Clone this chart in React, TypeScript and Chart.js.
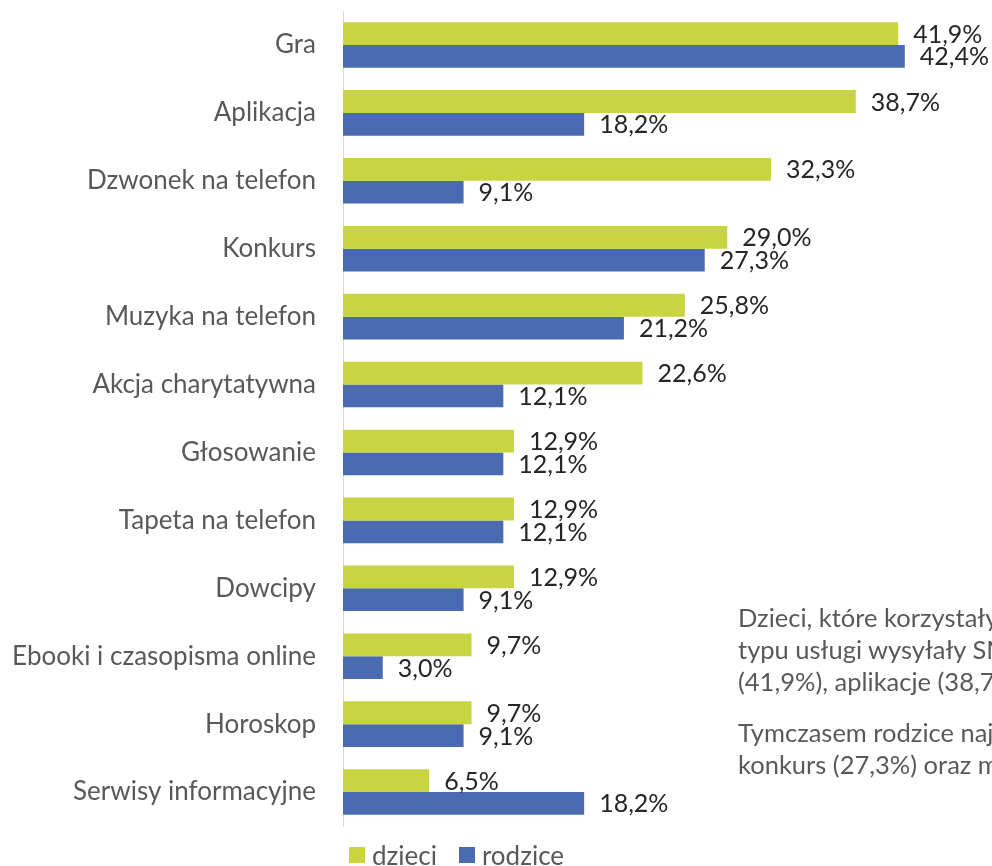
import React, { useEffect, useRef } from "react";
import { Chart, registerables } from "chart.js";

Chart.register(...registerables);

const categories = [
  "Gra",
  "Aplikacja",
  "Dzwonek na telefon",
  "Konkurs",
  "Muzyka na telefon",
  "Akcja charytatywna",
  "Głosowanie",
  "Tapeta na telefon",
  "Dowcipy",
  "Ebooki i czasopisma online",
  "Horoskop",
  "Serwisy informacyjne",
];
const dzieci = [41.9, 38.7, 32.3, 29.0, 25.8, 22.6, 12.9, 12.9, 12.9, 9.7, 9.7, 6.5];
const rodzice = [42.4, 18.2, 9.1, 27.3, 21.2, 12.1, 12.1, 12.1, 9.1, 3.0, 9.1, 18.2];
const seriesNames = ["dzieci", "rodzice"];
const seriesColors = ["#c9d540", "#4a6bb1"];

const noteParagraphs = [
  [
    "Dzieci, które korzystały z tego",
    "typu usługi wysyłały SMS-y na grę",
    "(41,9%), aplikacje (38,7%) i dzwonki",
  ],
  [
    "Tymczasem rodzice najczęściej na grę (42,4%),",
    "konkurs (27,3%) oraz muzykę (21,2%).",
  ],
];

const FONT = "Lato, 'Open Sans', 'DejaVu Sans', sans-serif";

const labelPlugin = {
  id: "barValueLabels",
  afterDatasetsDraw(chart: any) {
    const ctx = chart.ctx;
    ctx.save();
    ctx.font = `25px ${FONT}`;
    ctx.fillStyle = "#262626";
    ctx.textAlign = "left";
    ctx.textBaseline = "middle";
    chart.data.datasets.forEach((ds: any, di: number) => {
      const meta = chart.getDatasetMeta(di);
      meta.data.forEach((el: any, i: number) => {
        const v = ds.data[i] as number;
        const txt = v.toFixed(1).replace(".", ",") + "%";
        ctx.fillText(txt, el.x + 15, el.y + 1);
      });
    });
    ctx.restore();
  },
};

export default function App() {
  const canvasRef = useRef<HTMLCanvasElement | null>(null);

  useEffect(() => {
    if (!canvasRef.current) return;
    const chart = new Chart(canvasRef.current, {
      type: "bar",
      data: {
        labels: categories,
        datasets: [
          {
            label: seriesNames[0],
            data: dzieci,
            backgroundColor: seriesColors[0],
            categoryPercentage: 0.67,
            barPercentage: 1,
          },
          {
            label: seriesNames[1],
            data: rodzice,
            backgroundColor: seriesColors[1],
            categoryPercentage: 0.67,
            barPercentage: 1,
          },
        ],
      },
      options: {
        indexAxis: "y",
        responsive: false,
        maintainAspectRatio: false,
        animation: false,
        layout: { padding: { top: 11, bottom: 40, right: 13, left: 0 } },
        plugins: {
          legend: { display: false },
          tooltip: { enabled: false },
        },
        scales: {
          x: {
            display: false,
            min: 0,
            max: 48,
          },
          y: {
            grid: { display: false, drawTicks: false },
            border: { display: true, color: "#d9d9d9", width: 1 },
            ticks: {
              color: "#595959",
              padding: 27,
              font: { family: FONT, size: 26 },
            },
            afterFit(scale: any) {
              scale.width = 343;
              scale.paddingTop = 0;
              scale.paddingBottom = 0;
            },
          },
        },
      },
      plugins: [labelPlugin],
    });
    return () => chart.destroy();
  }, []);

  return (
    <div style={{ position: "absolute", left: 0, top: 0, width: 992, height: 866, overflow: "hidden", background: "#fff" }}>
      <canvas ref={canvasRef} width={992} height={866} style={{ position: "absolute", left: 0, top: 0 }} />
      <div
        style={{
          position: "absolute",
          left: 738,
          top: 601,
          width: 254,
          overflow: "hidden",
          whiteSpace: "nowrap",
          fontFamily: FONT,
          fontSize: 25.5,
          color: "#595959",
          lineHeight: "32px",
        }}
      >
        {noteParagraphs.map((p, pi) => (
          <div key={pi} style={{ marginBottom: pi === 0 ? 19 : 0 }}>
            {p.map((line, li) => (
              <div key={li}>{line}</div>
            ))}
          </div>
        ))}
      </div>
      <div
        style={{
          position: "absolute",
          left: 349,
          top: 840,
          height: 30,
          display: "flex",
          alignItems: "center",
          fontFamily: FONT,
          fontSize: 26,
          color: "#595959",
        }}
      >
        {seriesNames.map((n, i) => (
          <div key={n} style={{ display: "flex", alignItems: "center", marginRight: 22 }}>
            <span style={{ display: "inline-block", width: 16, height: 16, background: seriesColors[i], marginRight: 7 }} />
            <span>{n}</span>
          </div>
        ))}
      </div>
    </div>
  );
}
